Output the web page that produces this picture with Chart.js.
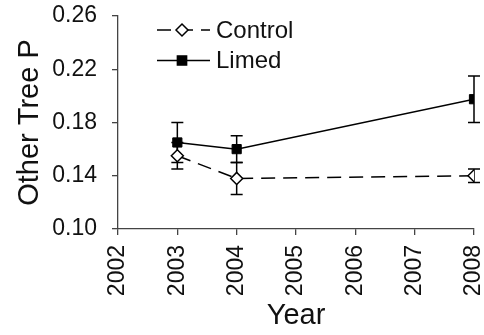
<!DOCTYPE html>
<html>
<head>
<meta charset="utf-8">
<script src="https://cdn.jsdelivr.net/npm/chart.js@4"></script>
<style>
  html, body { margin: 0; padding: 0; background: #fff; }
  #wrap { width: 484px; height: 335px; }
</style>
</head>
<body>
<div id="wrap"><canvas id="chart" width="484" height="335"></canvas></div>
<script>
// values
const years = [2003, 2004, 2008];
const controlP = [0.155, 0.138, 0.140];
const controlErr = [0.010, 0.012, 0.005];
const limedP = [0.165, 0.160, 0.1975];
const limedErr = [0.015, 0.010, 0.0175];
const yTicks = [0.10, 0.14, 0.18, 0.22, 0.26];

const FONT = "'Liberation Sans', Arial, sans-serif";
const AXIS = '#444';

// error bars, drawn under the markers
const errorBars = {
  id: 'errorBars',
  beforeDatasetsDraw(chart) {
    const ctx = chart.ctx;
    const y = chart.scales.y;
    ctx.save();
    ctx.strokeStyle = '#000';
    ctx.lineWidth = 1.5;
    ctx.setLineDash([]);
    chart.data.datasets.forEach((ds, i) => {
      const meta = chart.getDatasetMeta(i);
      meta.data.forEach((pt, j) => {
        const v = ds.data[j].y, e = ds.errors[j];
        const top = y.getPixelForValue(v + e);
        const bot = y.getPixelForValue(v - e);
        ctx.beginPath();
        ctx.moveTo(pt.x, top); ctx.lineTo(pt.x, bot);
        ctx.moveTo(pt.x - 6, top); ctx.lineTo(pt.x + 6, top);
        ctx.moveTo(pt.x - 6, bot); ctx.lineTo(pt.x + 6, bot);
        ctx.stroke();
      });
    });
    ctx.restore();
  }
};

// legend sitting inside the plot, top left
const innerLegend = {
  id: 'innerLegend',
  afterDraw(chart) {
    const ctx = chart.ctx;
    const a = chart.chartArea;
    ctx.save();
    chart.data.datasets.forEach((ds, i) => {
      const cy = a.top + 14 + i * 30.5;
      const x0 = a.left + 39, x1 = a.left + 92, xm = a.left + 64;
      ctx.strokeStyle = '#000';
      ctx.lineWidth = 1.5;
      ctx.setLineDash(ds.borderDash || []);
      ctx.beginPath();
      ctx.moveTo(x0, cy); ctx.lineTo(x1, cy);
      ctx.stroke();
      ctx.setLineDash([]);
      ctx.fillStyle = ds.pointBackgroundColor;
      ctx.strokeStyle = '#000';
      Chart.helpers.drawPoint(ctx, { pointStyle: ds.pointStyle, radius: ds.pointRadius, borderWidth: 1.5 }, xm, cy);
      ctx.fillStyle = '#111';
      ctx.font = '24px ' + FONT;
      ctx.textBaseline = 'middle';
      ctx.textAlign = 'left';
      ctx.fillText(ds.label, a.left + 98, cy + 1);
    });
    ctx.restore();
  }
};

new Chart(document.getElementById('chart'), {
  type: 'line',
  data: {
    datasets: [
      {
        label: 'Control',
        data: years.map((x, i) => ({ x, y: controlP[i] })),
        errors: controlErr,
        borderColor: '#000',
        borderWidth: 1.5,
        borderDash: [14, 8],
        pointStyle: 'rectRot',
        pointRadius: 6,
        pointBackgroundColor: '#fff',
        pointBorderColor: '#000',
        pointBorderWidth: 1.5,
        tension: 0
      },
      {
        label: 'Limed',
        data: years.map((x, i) => ({ x, y: limedP[i] })),
        errors: limedErr,
        borderColor: '#000',
        borderWidth: 1.5,
        pointStyle: 'rect',
        pointRadius: 6.5,
        pointBackgroundColor: '#000',
        pointBorderColor: '#000',
        pointBorderWidth: 1,
        tension: 0
      }
    ]
  },
  options: {
    responsive: false,
    animation: false,
    layout: { padding: { top: 16, right: 10, left: 0, bottom: 0 } },
    plugins: { legend: { display: false }, tooltip: { enabled: false } },
    scales: {
      x: {
        type: 'linear',
        min: 2002,
        max: 2008,
        afterFit(s) { s.height = 106; s.paddingRight = 0; s.paddingLeft = 0; },
        ticks: {
          stepSize: 1,
          minRotation: 90,
          maxRotation: 90,
          padding: 10,
          color: '#111',
          font: { family: FONT, size: 23 },
          callback: v => String(v)
        },
        grid: { drawOnChartArea: false, drawTicks: true, tickLength: 6, color: AXIS, lineWidth: 1.3 },
        border: { color: AXIS, width: 1.3 },
        title: { display: true, text: 'Year', color: '#111', font: { family: FONT, size: 29 }, padding: { top: 0, bottom: 2 } }
      },
      y: {
        min: 0.10,
        max: 0.26,
        afterFit(s) { s.width = 118; s.paddingTop = 0; s.paddingBottom = 0; },
        afterBuildTicks(s) { s.ticks = yTicks.map(v => ({ value: v })); },
        ticks: {
          padding: 15,
          color: '#111',
          font: { family: FONT, size: 23 },
          callback: v => v.toFixed(2)
        },
        grid: { drawOnChartArea: false, drawTicks: true, tickLength: 6, color: AXIS, lineWidth: 1.3 },
        border: { color: AXIS, width: 1.3 },
        title: { display: true, text: 'Other Tree P', color: '#111', font: { family: FONT, size: 29 }, padding: { top: 13, bottom: 0 } }
      }
    }
  },
  plugins: [errorBars, innerLegend]
});
</script>
</body>
</html>
